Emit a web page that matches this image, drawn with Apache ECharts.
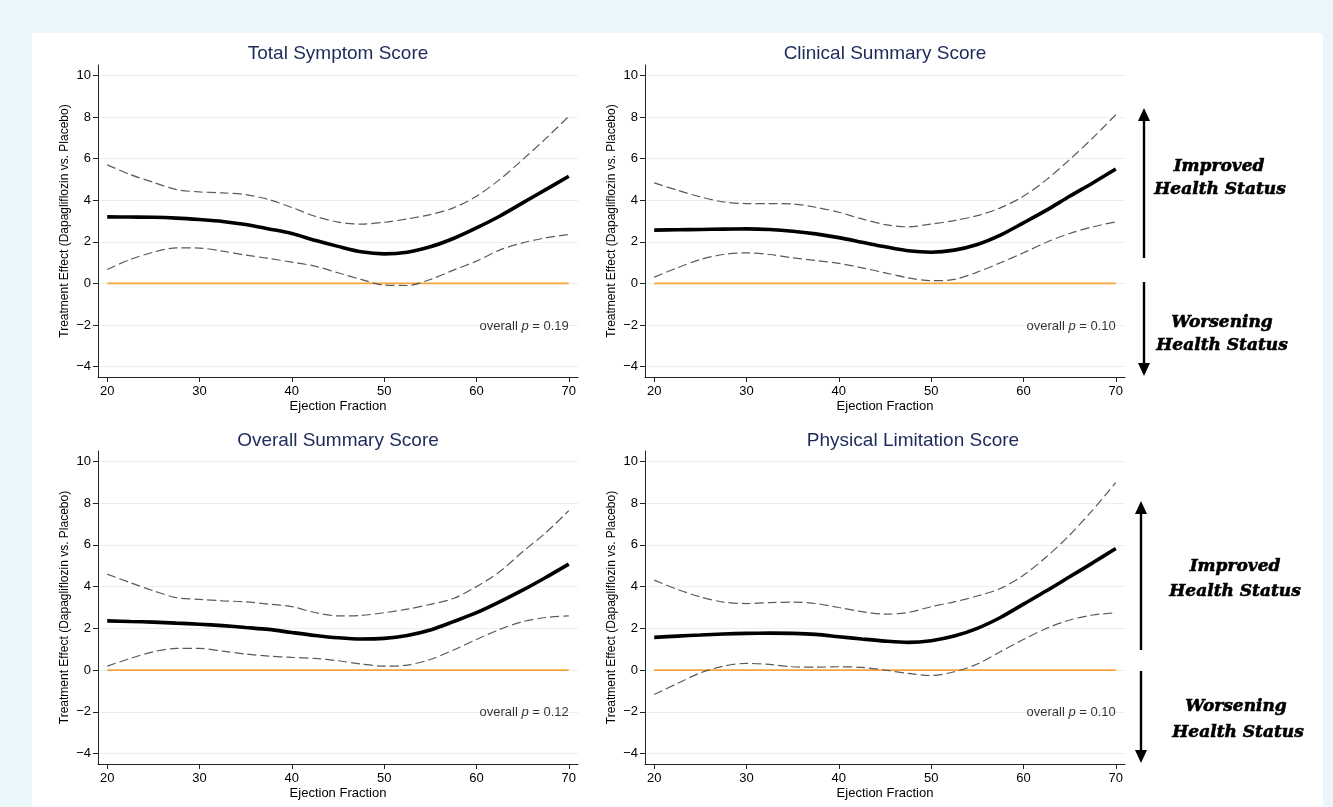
<!DOCTYPE html>
<html>
<head>
<meta charset="utf-8">
<script src="https://cdn.jsdelivr.net/npm/echarts@6/dist/echarts.min.js"></script>
<style>
html, body { margin: 0; padding: 0; background: #eaf6f9; }
#main { width: 1333px; height: 807px; }
</style>
</head>
<body>
<div id="main"></div>
<script>
// ejection fraction grid (2.5 steps)
var ef = [20, 22.5, 25, 27.5, 30, 32.5, 35, 37.5, 40, 42.5, 45, 47.5, 50, 52.5, 55, 57.5, 60, 62.5, 65, 67.5, 70];
var xTicks = [20, 30, 40, 50, 60, 70];
var yTicks = [-4, -2, 0, 2, 4, 6, 8, 10];

var titles = ['Total Symptom Score', 'Clinical Summary Score', 'Overall Summary Score', 'Physical Limitation Score'];
var pValues = ['0.19', '0.10', '0.12', '0.10'];

// treatment effect + 95% CI per panel
var tssEst = [3.2, 3.19, 3.18, 3.14, 3.07, 2.98, 2.83, 2.62, 2.4, 2.07, 1.78, 1.52, 1.42, 1.5, 1.76, 2.16, 2.67, 3.23, 3.87, 4.51, 5.15];
var tssUp  = [5.7, 5.23, 4.86, 4.51, 4.4, 4.35, 4.27, 4.03, 3.65, 3.23, 2.95, 2.85, 2.94, 3.1, 3.31, 3.63, 4.19, 4.99, 5.95, 6.96, 8.03];
var tssLo  = [0.67, 1.15, 1.5, 1.71, 1.7, 1.55, 1.36, 1.2, 1.02, 0.83, 0.51, 0.19, -0.08, -0.1, 0.19, 0.64, 1.07, 1.6, 1.95, 2.19, 2.35];

var cssEst = [2.56, 2.58, 2.59, 2.61, 2.62, 2.59, 2.51, 2.38, 2.2, 1.98, 1.76, 1.57, 1.5, 1.6, 1.87, 2.32, 2.91, 3.52, 4.19, 4.83, 5.5];
var cssUp  = [4.83, 4.48, 4.16, 3.92, 3.84, 3.84, 3.82, 3.66, 3.42, 3.1, 2.83, 2.72, 2.85, 3.02, 3.26, 3.63, 4.19, 4.99, 5.95, 6.99, 8.11];
var cssLo  = [0.3, 0.75, 1.15, 1.39, 1.47, 1.39, 1.23, 1.1, 0.96, 0.75, 0.51, 0.27, 0.13, 0.19, 0.54, 0.99, 1.47, 1.98, 2.4, 2.72, 2.96];

var ossEst = [2.36, 2.33, 2.3, 2.25, 2.2, 2.13, 2.04, 1.95, 1.8, 1.66, 1.55, 1.49, 1.52, 1.66, 1.92, 2.32, 2.75, 3.27, 3.83, 4.44, 5.08];
var ossUp  = [4.6, 4.19, 3.8, 3.47, 3.39, 3.32, 3.27, 3.16, 3.04, 2.76, 2.6, 2.62, 2.75, 2.92, 3.15, 3.43, 4.0, 4.71, 5.67, 6.58, 7.64];
var ossLo  = [0.19, 0.56, 0.88, 1.04, 1.04, 0.91, 0.77, 0.67, 0.61, 0.56, 0.45, 0.29, 0.19, 0.24, 0.51, 0.96, 1.47, 1.95, 2.32, 2.52, 2.6];

var plsEst = [1.57, 1.63, 1.68, 1.73, 1.76, 1.77, 1.76, 1.71, 1.6, 1.49, 1.39, 1.33, 1.41, 1.63, 2.0, 2.52, 3.16, 3.8, 4.47, 5.14, 5.83];
var plsUp  = [4.31, 3.87, 3.51, 3.26, 3.19, 3.23, 3.26, 3.19, 3.0, 2.8, 2.68, 2.76, 3.04, 3.27, 3.55, 3.91, 4.55, 5.43, 6.47, 7.67, 8.99];
var plsLo  = [-1.17, -0.64, -0.13, 0.19, 0.32, 0.27, 0.16, 0.14, 0.16, 0.13, 0, -0.16, -0.26, -0.08, 0.29, 0.88, 1.47, 2.0, 2.4, 2.64, 2.75];

var ests = [tssEst, cssEst, ossEst, plsEst];
var ups = [tssUp, cssUp, ossUp, plsUp];
var los = [tssLo, cssLo, ossLo, plsLo];

// layout
var gridBox = [
  { left: 98, top: 65, width: 480, height: 312 },
  { left: 645, top: 65, width: 480, height: 312 },
  { left: 98, top: 451, width: 480, height: 313 },
  { left: 645, top: 451, width: 480, height: 313 }
];
var titlePos = [[338, 54], [885, 54], [338, 441], [913, 441]];

function pairs(ys) { return ef.map(function (x, i) { return [x, ys[i]]; }); }
function minus(v) { return String(v).replace('-', '\u2212'); }

var grids = [], xAxes = [], yAxes = [], series = [], graphics = [];

graphics.push({ type: 'rect', z: -10, shape: { x: 32, y: 33, width: 1291, height: 780 }, style: { fill: '#ffffff' } });

for (var k = 0; k < 4; k++) {
  grids.push(gridBox[k]);
  xAxes.push({
    gridIndex: k, type: 'value', min: 19, max: 71,
    name: 'Ejection Fraction', nameLocation: 'middle', nameGap: 23,
    nameTextStyle: { fontSize: 13, color: '#000' },
    axisLine: { show: true, onZero: false, lineStyle: { color: '#222', width: 1 } },
    axisTick: { show: true, length: 5, customValues: xTicks, lineStyle: { color: '#222' } },
    axisLabel: { customValues: xTicks, fontSize: 13, color: '#000', margin: 8 },
    splitLine: { show: false }
  });
  yAxes.push({
    gridIndex: k, type: 'value', min: -4.5, max: 10.5,
    name: 'Treatment Effect (Dapagliflozin vs. Placebo)', nameLocation: 'middle', nameGap: 27,
    nameRotate: 90, nameTextStyle: { fontSize: 12, color: '#000' },
    axisLine: { show: true, onZero: false, lineStyle: { color: '#222', width: 1 } },
    axisTick: { show: true, length: 5, customValues: yTicks, lineStyle: { color: '#222' } },
    axisLabel: { customValues: yTicks, fontSize: 13, color: '#000', margin: 7, formatter: minus },
    splitLine: { show: true, lineStyle: { color: '#e7efef', width: 1 } }
  });

  series.push({
    type: 'line', xAxisIndex: k, yAxisIndex: k, data: [[20, 0], [70, 0]],
    symbol: 'none', silent: true, lineStyle: { color: '#f6a33c', width: 1.6 }, z: 1
  });
  series.push({
    type: 'line', xAxisIndex: k, yAxisIndex: k, data: pairs(ups[k]),
    smooth: 0.3, symbol: 'none',
    lineStyle: { color: '#5a5a5a', width: 1.2, type: [9, 4] }, z: 2
  });
  series.push({
    type: 'line', xAxisIndex: k, yAxisIndex: k, data: pairs(los[k]),
    smooth: 0.3, symbol: 'none',
    lineStyle: { color: '#5a5a5a', width: 1.2, type: [9, 4] }, z: 2
  });
  series.push({
    type: 'line', xAxisIndex: k, yAxisIndex: k, data: pairs(ests[k]),
    smooth: 0.3, symbol: 'none',
    lineStyle: { color: '#000', width: 3.6 }, z: 3
  });
  series.push({
    type: 'scatter', xAxisIndex: k, yAxisIndex: k, data: [[70, -2.05]],
    symbolSize: 0, silent: true,
    label: {
      show: true, position: 'left', distance: 0, color: '#000',
      formatter: '{a|overall }{p|p}{a| = ' + pValues[k] + '}',
      rich: {
        a: { fontSize: 13, color: '#000' },
        p: { fontSize: 13, color: '#000', fontStyle: 'italic' }
      }
    }
  });

  graphics.push({
    type: 'text', x: titlePos[k][0], y: titlePos[k][1],
    style: { text: titles[k], font: '19px "Liberation Sans"', fill: '#1d2a5a', textAlign: 'center', textVerticalAlign: 'middle' }
  });
}

// right-hand direction arrows and captions
function arrowSet(x, upTip, upEnd, downStart, downTip, txtX, txtY) {
  var st = { stroke: '#000', lineWidth: 2.4 };
  graphics.push({ type: 'line', shape: { x1: x, y1: upTip + 10, x2: x, y2: upEnd }, style: st });
  graphics.push({ type: 'polygon', shape: { points: [[x, upTip], [x - 6, upTip + 13], [x + 6, upTip + 13]] }, style: { fill: '#000' } });
  graphics.push({ type: 'line', shape: { x1: x, y1: downStart, x2: x, y2: downTip - 10 }, style: st });
  graphics.push({ type: 'polygon', shape: { points: [[x, downTip], [x - 6, downTip - 13], [x + 6, downTip - 13]] }, style: { fill: '#000' } });
  var lines = ['Improved', 'Health Status', 'Worsening', 'Health Status'];
  for (var i = 0; i < 4; i++) {
    graphics.push({
      type: 'text', x: txtX[i], y: txtY[i],
      style: { text: lines[i], font: 'italic 900 17px "DejaVu Serif"', fill: '#000', stroke: '#000', lineWidth: 0.6, textAlign: 'center', textVerticalAlign: 'middle' }
    });
  }
}
arrowSet(1144, 108, 258, 282, 376, [1219, 1220, 1222, 1222], [167, 190, 323, 346]);
arrowSet(1141, 501, 650, 671, 763, [1235, 1235, 1236, 1238], [567, 592, 707, 733]);

var myChart = echarts.init(document.getElementById('main'));
var option = {
  backgroundColor: '#eaf6f9',
  animation: false,
  textStyle: { fontFamily: 'Liberation Sans' },
  grid: grids,
  xAxis: xAxes,
  yAxis: yAxes,
  series: series,
  graphic: graphics
};
myChart.setOption(option);
</script>
</body>
</html>
